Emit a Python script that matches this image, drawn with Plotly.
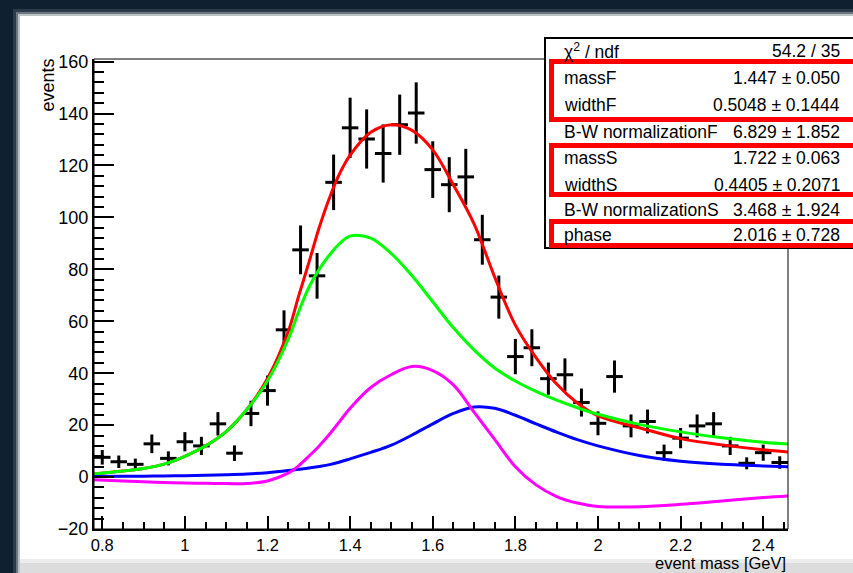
import plotly.graph_objects as go

# ---------------- data ----------------
bin_centers = [0.80, 0.84, 0.88, 0.92, 0.96, 1.00, 1.04, 1.08, 1.12, 1.16, 1.20,
               1.24, 1.28, 1.32, 1.36, 1.40, 1.44, 1.48, 1.52, 1.56, 1.60, 1.64,
               1.68, 1.72, 1.76, 1.80, 1.84, 1.88, 1.92, 1.96, 2.00, 2.04, 2.08,
               2.12, 2.16, 2.20, 2.24, 2.28, 2.32, 2.36, 2.40, 2.44]
events = [7.6, 5.9, 4.9, 12.8, 7.2, 13.6, 12.0, 20.5, 9.2, 24.5, 33.3,
          56.7, 87.5, 77.5, 113.5, 134.5, 130.2, 124.6, 135.7, 140.2, 118.4, 112.6,
          115.6, 91.4, 69.3, 46.4, 49.8, 37.9, 39.4, 28.7, 20.7, 38.7, 19.7,
          21.4, 9.4, 15.0, 19.7, 20.5, 12.0, 5.3, 9.4, 5.6]
event_errors = [2.8, 2.4, 2.2, 3.6, 2.7, 3.7, 3.5, 4.5, 3.0, 4.9, 5.8,
                7.5, 9.4, 8.8, 10.7, 11.6, 11.4, 11.2, 11.6, 11.8, 10.9, 10.6,
                10.8, 9.6, 8.3, 6.8, 7.1, 6.2, 6.3, 5.4, 4.6, 6.2, 4.4,
                4.6, 3.1, 3.9, 4.4, 4.5, 3.5, 2.3, 3.1, 2.4]
bin_half_width = 0.02

curve_x = [0.78, 0.85, 0.90, 0.95, 1.00, 1.05, 1.10, 1.15, 1.20, 1.25, 1.275,
           1.30, 1.325, 1.35, 1.375, 1.40, 1.45, 1.50, 1.55, 1.60, 1.65, 1.70,
           1.75, 1.80, 1.85, 1.90, 1.95, 2.00, 2.10, 2.20, 2.30, 2.40, 2.46]
total_fit = [1.2, 2.3, 3.3, 5.0, 8.0, 12.0, 17.5, 26.0, 38.0, 56.0, 69.5,
             82.5, 96.0, 107.5, 117.0, 124.0, 132.8, 135.7, 133.5, 126.0, 112.5, 97.5,
             77.0, 58.5, 46.0, 35.8, 28.5, 23.6, 19.0, 14.8, 12.4, 10.5, 9.7]
bw_f = [1.2, 2.3, 3.3, 5.0, 8.0, 12.0, 17.5, 26.0, 37.0, 53.0, 63.5,
        73.0, 80.0, 85.5, 90.0, 92.8, 92.0, 86.0, 77.5, 67.5, 57.5, 49.0,
        42.0, 37.0, 33.0, 29.6, 26.7, 24.2, 20.3, 17.4, 15.1, 13.4, 12.7]
bw_s = [0.2, 0.3, 0.35, 0.45, 0.55, 0.7, 0.9, 1.2, 1.7, 2.5, 3.0,
        3.5, 4.1, 4.8, 5.8, 7.0, 9.5, 12.3, 16.2, 20.5, 24.5, 27.0,
        26.5, 23.8, 20.5, 17.3, 14.4, 12.0, 8.3, 6.1, 4.9, 4.3, 4.0]
interference = [-1.0, -1.5, -1.8, -2.1, -2.3, -2.4, -2.5, -2.5, -1.5, 1.5, 4.3,
                8.0, 12.0, 16.5, 21.5, 26.5, 34.5, 39.5, 42.6, 41.0, 35.5, 25.0,
                14.5, 4.0, -3.0, -7.5, -10.0, -11.3, -11.4, -10.5, -9.2, -7.9, -7.3]

x_ticks = [0.8, 1.0, 1.2, 1.4, 1.6, 1.8, 2.0, 2.2, 2.4]
y_ticks = [-20, 0, 20, 40, 60, 80, 100, 120, 140, 160]

stats_labels = ["χ<sup>2</sup> / ndf", "massF", "widthF", "B-W normalizationF",
                "massS", "widthS", "B-W normalizationS", "phase"]
stats_values = ["54.2 / 35", "1.447 ± 0.050", "0.5048 ± 0.1444", "6.829 ± 1.852",
                "1.722 ± 0.063", "0.4405 ± 0.2071", "3.468 ± 1.924", "2.016 ± 0.728"]

# ---------------- layout geometry (pixels) ----------------
WIDTH, HEIGHT = 853, 573
L, R, T, B = 94, 788, 59, 529
FONT = "Liberation Sans, Arial, Helvetica, sans-serif"
BACKDROP = "#0f2030"


def pxx(p):
    return (p - L) / (R - L)


def pxy(p):
    return (B - p) / (B - T)


fig = go.Figure()

fig.add_trace(go.Scatter(
    x=bin_centers, y=events, mode="markers",
    marker=dict(size=2, color="black"),
    error_x=dict(type="constant", value=bin_half_width, thickness=3, width=0, color="black"),
    error_y=dict(type="data", array=event_errors, thickness=3, width=0, color="black"),
    showlegend=False, hoverinfo="skip"))

for ys, col in [(total_fit, "#ff0000"), (bw_f, "#00ff00"), (bw_s, "#0000ff"),
                (interference, "#ff00ff")]:
    fig.add_trace(go.Scatter(x=curve_x, y=ys, mode="lines",
                             line=dict(color=col, width=3, shape="spline", smoothing=1.0),
                             showlegend=False, hoverinfo="skip"))

shapes = []
# page background: shadowed white sheet on dark backdrop
for inset, op in [(0, 0.12), (3, 0.3), (5, 0.55), (7, 1.0)]:
    shapes.append(dict(type="rect", xref="paper", yref="paper", layer="below",
                       x0=pxx(13 + inset), x1=pxx(WIDTH + 10),
                       y0=pxy(9 + inset), y1=pxy(HEIGHT + 10),
                       fillcolor=f"rgba(255,255,255,{op})", line=dict(width=0)))
shapes.append(dict(type="rect", xref="paper", yref="paper", layer="below",
                   x0=pxx(20), x1=pxx(WIDTH + 10), y0=pxy(563), y1=pxy(HEIGHT + 10),
                   fillcolor="#dcdcdc", line=dict(width=0)))
shapes.append(dict(type="rect", xref="paper", yref="paper", layer="below",
                   x0=pxx(20), x1=pxx(WIDTH + 10), y0=pxy(559), y1=pxy(563),
                   fillcolor="#ececec", line=dict(width=0)))
# frame (top/right thin lines)
shapes.append(dict(type="rect", xref="paper", yref="paper", layer="above",
                   x0=0, x1=1, y0=0, y1=1, line=dict(color="black", width=1)))
# stats box
shapes.append(dict(type="rect", xref="paper", yref="paper", layer="above",
                   x0=pxx(545), x1=pxx(WIDTH + 20), y0=pxy(248), y1=pxy(38),
                   fillcolor="white", line=dict(color="black", width=2)))
# red highlight boxes
for top, bot in [(61.5, 119.5), (145.5, 194.5), (221.5, 245.5)]:
    shapes.append(dict(type="rect", xref="paper", yref="paper", layer="above",
                       x0=pxx(551.5), x1=pxx(WIDTH + 20), y0=pxy(bot), y1=pxy(top),
                       line=dict(color="#ff0000", width=5)))

annotations = []
row_y = [51, 78, 105, 132, 158, 185, 210, 235]
for lab, val, yy in zip(stats_labels, stats_values, row_y):
    annotations.append(dict(xref="paper", yref="paper", x=pxx(562), y=pxy(yy),
                            xanchor="left", yanchor="middle", text=lab, showarrow=False,
                            font=dict(family=FONT, size=17.5, color="black")))
    annotations.append(dict(xref="paper", yref="paper", x=pxx(842), y=pxy(yy),
                            xanchor="right", yanchor="middle", text=val, showarrow=False,
                            font=dict(family=FONT, size=17.5, color="black")))
annotations.append(dict(xref="paper", yref="paper", x=pxx(47), y=pxy(57),
                        xanchor="center", yanchor="top", text="events", textangle=-90,
                        showarrow=False, font=dict(family=FONT, size=18, color="black")))
annotations.append(dict(xref="paper", yref="paper", x=pxx(788), y=pxy(563),
                        xanchor="right", yanchor="middle", text="event mass [GeV]",
                        showarrow=False, font=dict(family=FONT, size=16.5, color="black")))

fig.update_layout(
    width=WIDTH, height=HEIGHT,
    margin=dict(l=L, r=WIDTH - R, t=T, b=HEIGHT - B, pad=0),
    paper_bgcolor=BACKDROP, plot_bgcolor="white",
    shapes=shapes, annotations=annotations, showlegend=False,
    font=dict(family=FONT, size=17, color="black"),
    xaxis=dict(range=[0.78, 2.46], tickvals=x_ticks, ticks="inside", ticklen=13,
               tickwidth=2, tickcolor="black", showline=True, linecolor="black",
               linewidth=2, showgrid=False, zeroline=False,
               minor=dict(dtick=0.05, tick0=0.8, ticks="inside", ticklen=7,
                          tickwidth=2, tickcolor="black", showgrid=False),
               tickfont=dict(family=FONT, size=16.5, color="black")),
    yaxis=dict(range=[-20, 161], tickvals=y_ticks, ticks="inside", ticklen=20,
               tickwidth=2, tickcolor="black", showline=True, linecolor="black",
               linewidth=2, showgrid=False, zeroline=False,
               minor=dict(dtick=4, tick0=0, ticks="inside", ticklen=10,
                          tickwidth=2, tickcolor="black", showgrid=False),
               tickfont=dict(family=FONT, size=18, color="black")),
)

fig.write_html("out.html",
               config={"displayModeBar": False, "staticPlot": True},
               post_script="document.body.style.margin='0px';"
                           "document.body.style.overflow='hidden';"
                           "document.body.style.background='" + BACKDROP + "';")
